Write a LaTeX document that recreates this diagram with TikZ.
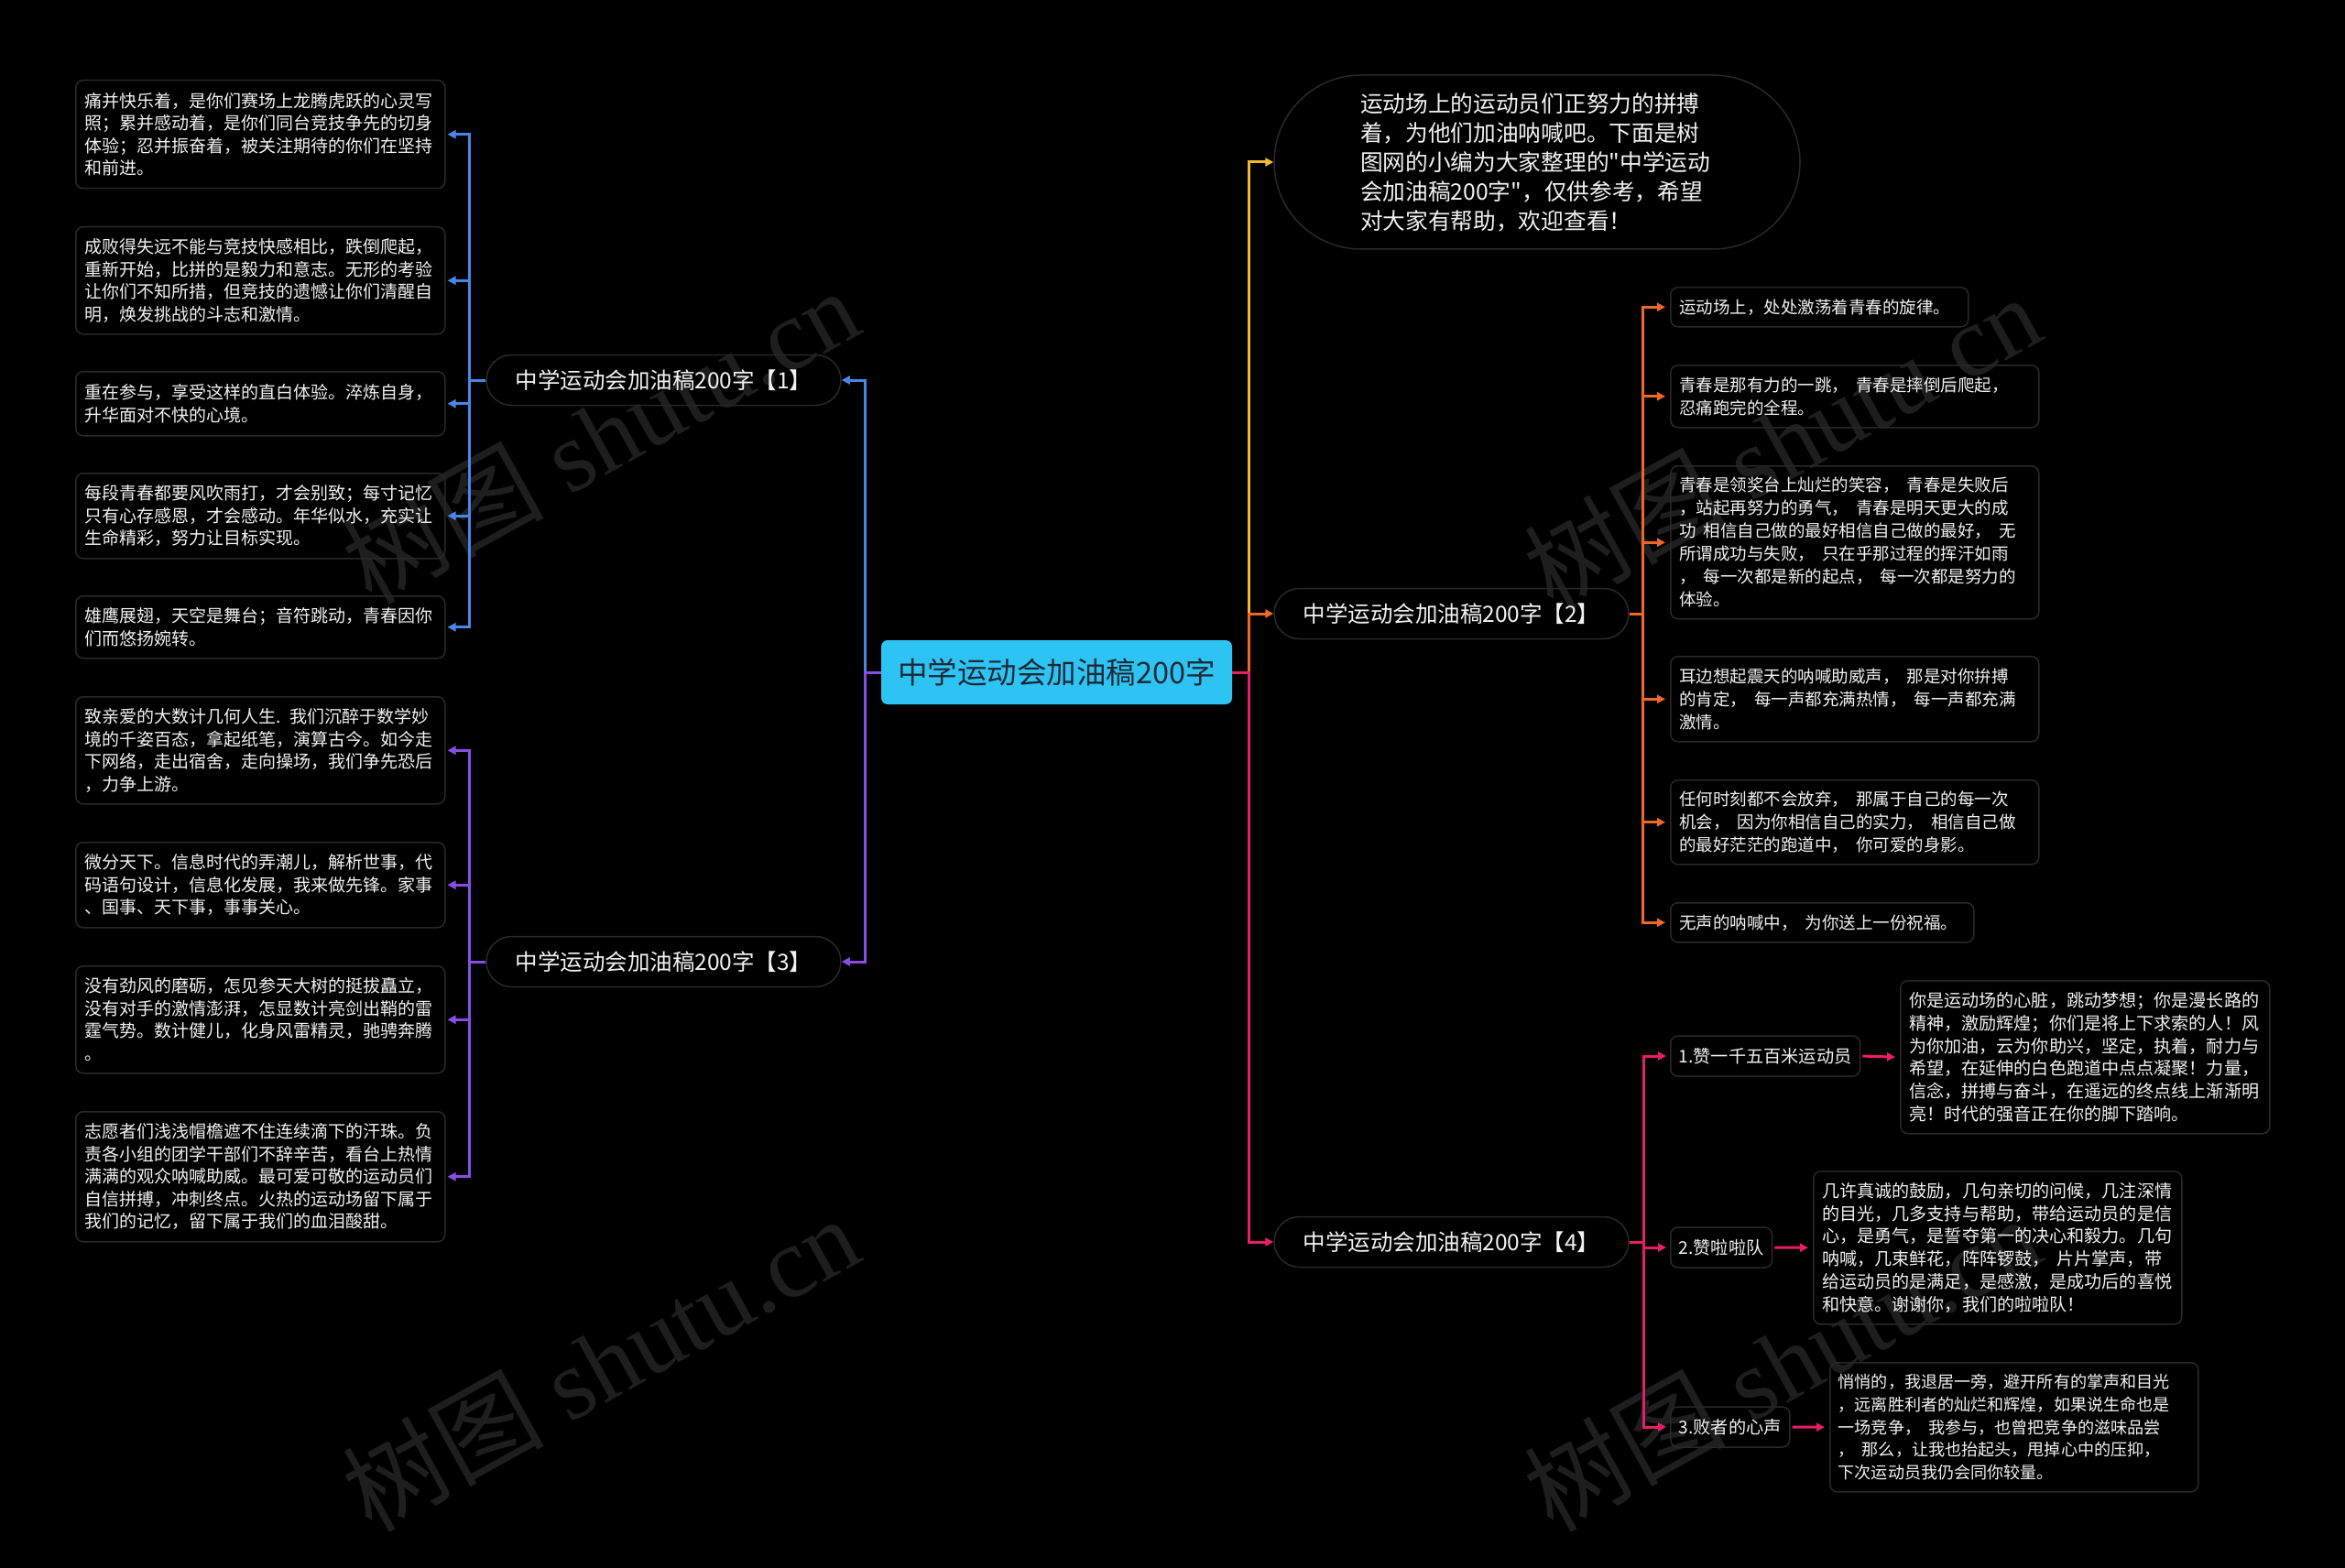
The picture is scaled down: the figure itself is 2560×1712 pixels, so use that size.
\documentclass[tikz,border=0pt]{standalone}
\usepackage{fontspec}
\newfontfamily\cjk{Noto Sans CJK SC}
\newfontfamily\wmserif{Liberation Serif}
\usetikzlibrary{arrows.meta}
\definecolor{boxline}{RGB}{40,40,40}
\definecolor{txt}{RGB}{242,242,242}
\definecolor{cblue}{RGB}{72,135,232}
\definecolor{cpurple}{RGB}{136,78,228}
\definecolor{cyellow}{RGB}{246,185,45}
\definecolor{corange}{RGB}{240,104,40}
\definecolor{ccrimson}{RGB}{230,30,105}
\definecolor{ccyan}{RGB}{45,196,244}
\definecolor{ctxt}{RGB}{28,42,55}
\definecolor{wmc}{RGB}{30,30,30}
\begin{document}
\begin{tikzpicture}[x=1pt,y=-1pt,
  >={Triangle[length=9pt,width=9pt]},
  conn/.style={line width=3pt,->},
  leaf/.style={draw=boxline, line width=1.5pt, rounded corners=8pt, inner xsep=9.5pt, inner ysep=0pt,
    align=left, text=txt, anchor=north west, execute at begin node={\spaceskip=8pt plus 2pt\relax}},
  fa/.style={font={\cjk\fontsize{19}{24.5}\selectfont}},
  fb/.style={font={\cjk\fontsize{18.5}{25}\selectfont}},
  fc/.style={font={\cjk\fontsize{19.1}{24.8}\selectfont}},
  fd/.style={font={\cjk\fontsize{18.1}{24.7}\selectfont}},
  pill/.style={draw=boxline, line width=1.5pt, rounded corners=27.5pt, minimum width=387pt, minimum height=55pt,
    inner sep=0pt, text=txt, font={\cjk\fontsize{24.5}{30}\selectfont}},
  sub/.style={draw=boxline, line width=1.5pt, rounded corners=8pt, minimum height=44pt, inner xsep=9pt, inner ysep=0pt,
    anchor=west, text=txt, font={\cjk\fontsize{19.2}{24}\selectfont}},
  wm/.style={text=wmc, rotate=29, font={\wmserif\fontsize{110}{120}\selectfont}}
]
\useasboundingbox (0,0) rectangle (2560,1712);
\fill[black] (0,0) rectangle (2560,1712);

% watermarks
\node[wm] (w1) at (655,475) {{\cjk 树图} shutu.cn};
\node[wm] (w2) at (655,1488) {{\cjk 树图} shutu.cn};
\node[wm] (w3) at (1945,482) {{\cjk 树图} shutu.cn};
\node[wm] (w4) at (1945,1488) {{\cjk 树图} shutu.cn};

% central topic
\node[fill=ccyan, rounded corners=7pt, minimum width=383pt, minimum height=70pt, inner sep=0pt, text=ctxt,
  font={\cjk\fontsize{32.5}{38}\selectfont}] (c) at (1153.5,734) {中学运动会加油稿200字};

% main branches
\node[pill] (n1) at (724.5,415) {中学运动会加油稿200字【1】};
\node[pill] (n3) at (724.5,1050) {中学运动会加油稿200字【3】};
\node[pill] (n2) at (1584.5,670) {中学运动会加油稿200字【2】};
\node[pill] (n4) at (1584.5,1356) {中学运动会加油稿200字【4】};
\node[draw=boxline, line width=1.5pt, rounded corners=95pt, minimum width=574pt, minimum height=190pt, inner sep=0pt,
  text width=386pt, align=left, text=txt, font={\cjk\fontsize{24.7}{32}\selectfont}] (intro) at (1678,177)
  {运动场上的运动员们正努力的拼搏\\着，为他们加油呐喊吧。下面是树\\图网的小编为大家整理的"中学运动\\会加油稿200字"，仅供参考，希望\\对大家有帮助，欢迎查看！};

% branch 1 leaves
\node[leaf,fa,text width=384pt,minimum height=118pt] (l1) at (82,87)
  {痛并快乐着，是你们赛场上龙腾虎跃的心灵写\\照；累并感动着，是你们同台竞技争先的切身\\体验；忍并振奋着，被关注期待的你们在坚持\\和前进。};
\node[leaf,fa,text width=384pt,minimum height=117pt] (l2) at (82,247)
  {成败得失远不能与竞技快感相比，跌倒爬起，\\重新开始，比拼的是毅力和意志。无形的考验\\让你们不知所措，但竞技的遗憾让你们清醒自\\明，焕发挑战的斗志和激情。};
\node[leaf,fa,text width=384pt,minimum height=70pt] (l3) at (82,405)
  {重在参与，享受这样的直白体验。淬炼自身，\\升华面对不快的心境。};
\node[leaf,fa,text width=384pt,minimum height=93pt] (l4) at (82,516)
  {每段青春都要风吹雨打，才会别致；每寸记忆\\只有心存感恩，才会感动。年华似水，充实让\\生命精彩，努力让目标实现。};
\node[leaf,fa,text width=384pt,minimum height=68pt] (l5) at (82,650)
  {雄鹰展翅，天空是舞台；音符跳动，青春因你\\们而悠扬婉转。};

% branch 3 leaves
\node[leaf,fa,text width=384pt,minimum height=117pt] (p1) at (82,760)
  {致亲爱的大数计几何人生. 我们沉醉于数学妙\\境的千姿百态，拿起纸笔，演算古今。如今走\\下网络，走出宿舍，走向操场，我们争先恐后\\，力争上游。};
\node[leaf,fa,text width=384pt,minimum height=93pt] (p2) at (82,919)
  {微分天下。信息时代的弄潮儿，解析世事，代\\码语句设计，信息化发展，我来做先锋。家事\\、国事、天下事，事事关心。};
\node[leaf,fa,text width=384pt,minimum height=117pt] (p3) at (82,1054)
  {没有劲风的磨砺，怎见参天大树的挺拔矗立，\\没有对手的激情澎湃，怎显数计亮剑出鞘的雷\\霆气势。数计健儿，化身风雷精灵，驰骋奔腾\\。};
\node[leaf,fa,text width=384pt,minimum height=142pt] (p4) at (82,1213)
  {志愿者们浅浅帽檐遮不住连续滴下的汗珠。负\\责各小组的团学干部们不辞辛苦，看台上热情\\满满的观众呐喊助威。最可爱可敬的运动员们\\自信拼搏，冲刺终点。火热的运动场留下属于\\我们的记忆，留下属于我们的血泪酸甜。};

% branch 2 leaves
\node[leaf,fb,text width=306pt,minimum height=43pt] (r1) at (1823,313)
  {运动场上，处处激荡着青春的旋律。};
\node[leaf,fb,text width=383pt,minimum height=68pt] (r2) at (1823,398)
  {青春是那有力的一跳， 青春是摔倒后爬起，\\忍痛跑完的全程。};
\node[leaf,fb,text width=383pt,minimum height=167pt] (r3) at (1823,508)
  {青春是领奖台上灿烂的笑容， 青春是失败后\\，站起再努力的勇气， 青春是明天更大的成\\功 相信自己做的最好相信自己做的最好， 无\\所谓成功与失败， 只在乎那过程的挥汗如雨\\， 每一次都是新的起点， 每一次都是努力的\\体验。};
\node[leaf,fb,text width=383pt,minimum height=93pt] (r4) at (1823,716)
  {耳边想起震天的呐喊助威声， 那是对你拚搏\\的肯定， 每一声都充满热情， 每一声都充满\\激情。};
\node[leaf,fb,text width=383pt,minimum height=92pt] (r5) at (1823,851)
  {任何时刻都不会放弃， 那属于自己的每一次\\机会， 因为你相信自己的实力， 相信自己做\\的最好茫茫的跑道中， 你可爱的身影。};
\node[leaf,fb,text width=312pt,minimum height=43pt] (r6) at (1823,985)
  {无声的呐喊中， 为你送上一份祝福。};

% branch 4 sub topics
\node[sub] (s1) at (1823,1153) {1.赞一千五百米运动员};
\node[sub] (s2) at (1823,1362) {2.赞啦啦队};
\node[sub] (s3) at (1823,1558) {3.败者的心声};
\node[leaf,fc,text width=384pt,minimum height=167pt] (d1) at (2074,1070)
  {你是运动场的心脏，跳动梦想；你是漫长路的\\精神，激励辉煌；你们是将上下求索的人！风\\为你加油，云为你助兴，坚定，执着，耐力与\\希望，在延伸的白色跑道中点点凝聚！力量，\\信念，拼搏与奋斗，在遥远的终点线上渐渐明\\亮！时代的强音正在你的脚下踏响。};
\node[leaf,fc,text width=383pt,minimum height=167pt] (d2) at (1979,1278)
  {几许真诚的鼓励，几句亲切的问候，几注深情\\的目光，几多支持与帮助，带给运动员的是信\\心，是勇气，是誓夺第一的决心和毅力。几句\\呐喊，几束鲜花，阵阵锣鼓， 片片掌声，带\\给运动员的是满足，是感激，是成功后的喜悦\\和快意。谢谢你，我们的啦啦队！};
\node[leaf,fd,text width=384pt,inner xsep=9pt,minimum height=141pt] (d3) at (1997,1487)
  {悄悄的，我退居一旁，避开所有的掌声和目光\\，远离胜利者的灿烂和辉煌，如果说生命也是\\一场竞争， 我参与，也曾把竞争的滋味品尝\\， 那么，让我也抬起头，甩掉心中的压抑，\\下次运动员我仍会同你较量。};

% connectors: center to main branches
\draw[cblue,conn] (c.west) -- ++(-17,0) |- (n1.east);
\draw[cpurple,conn] (c.west) -- ++(-17,0) |- (n3.east);
\draw[cyellow,conn] (c.east) -- ++(18,0) |- (intro.west);
\draw[corange,conn] (c.east) -- ++(18,0) |- (n2.west);
\draw[ccrimson,conn] (c.east) -- ++(18,0) |- (n4.west);

% branch 1
\foreach \t in {l1,l2,l3,l4,l5}
  \draw[cblue,conn,shorten >=2pt] (n1.west) -- ++(-18,0) |- (\t.east);
% branch 3
\foreach \t in {p1,p2,p3,p4}
  \draw[cpurple,conn,shorten >=2pt] (n3.west) -- ++(-18,0) |- (\t.east);
% branch 2
\foreach \t in {r1,r2,r3,r4,r5,r6}
  \draw[corange,conn,shorten >=5pt] (n2.east) -- ++(15,0) |- (\t.west);
% branch 4
\foreach \t in {s1,s2,s3}
  \draw[ccrimson,conn,shorten >=4pt] (n4.east) -- ++(16,0) |- (\t.west);
\draw[ccrimson,conn,shorten <=2pt,shorten >=5pt] (s1.east) -- (d1.west);
\draw[ccrimson,conn,shorten <=2pt,shorten >=5pt] (s2.east) -- (d2.west);
\draw[ccrimson,conn,shorten <=2pt,shorten >=5pt] (s3.east) -- (d3.west);
\end{tikzpicture}
\end{document}
